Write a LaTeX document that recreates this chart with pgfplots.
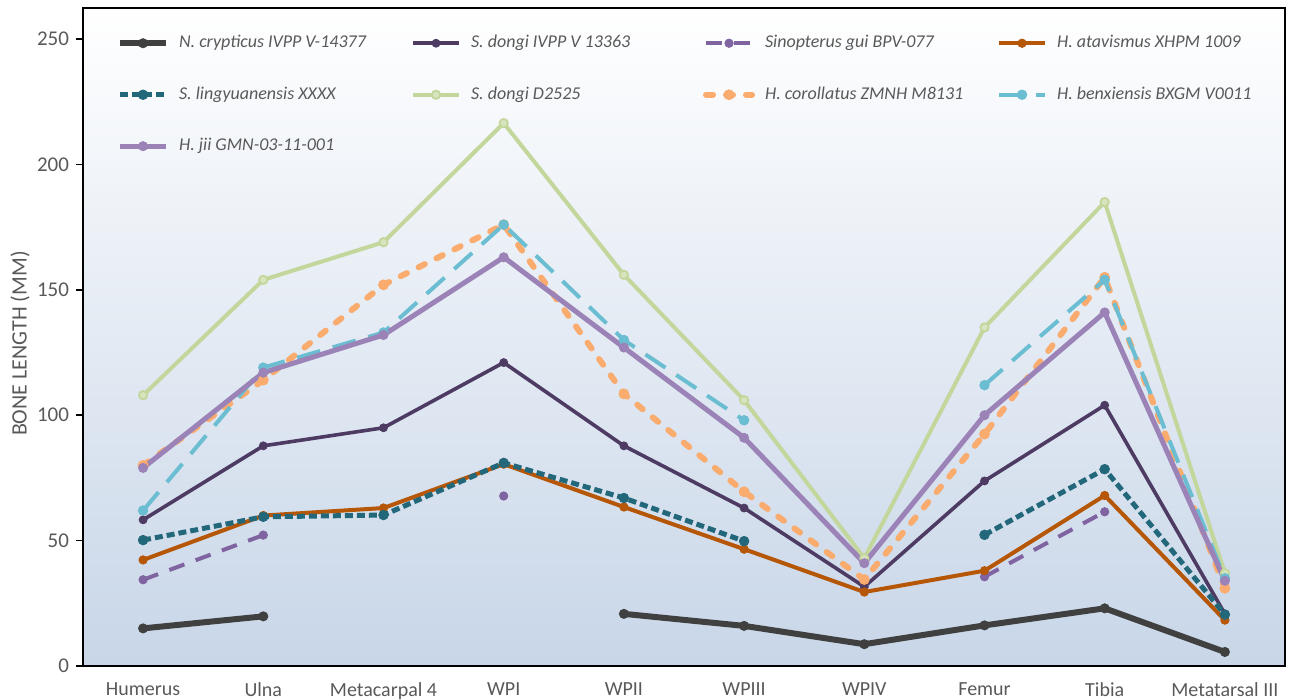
\documentclass[border=0pt]{standalone}
\usepackage{fontspec}
\setmainfont{Carlito}
\usepackage{pgfplots}
\usepackage{pgfplotstable}
\pgfplotsset{compat=1.18}
\definecolor{cA}{HTML}{404040}
\definecolor{cB}{HTML}{4E3B63}
\definecolor{cC}{HTML}{8064A2}
\definecolor{cD}{HTML}{B65708}
\definecolor{cE}{HTML}{23687A}
\definecolor{cF}{HTML}{C3D69B}
\definecolor{cFf}{HTML}{D7E4BD}
\definecolor{cG}{HTML}{FAAB6E}
\definecolor{cH}{HTML}{6BBDD2}
\definecolor{cI}{HTML}{9B83B7}
\definecolor{txt}{HTML}{595959}
\definecolor{bgb}{HTML}{C8D6E8}
\pgfplotstableread{
x ncry sdong sgui hata sling sdd hcor hben hjii
0 15 58.3 34.4 42.3 50.2 108 80 62 79
1 19.8 87.8 52.2 60.0 59.5 154 114 119 117
2 nan 95 nan 63 60.2 169 152 133 132
3 nan 121 67.8 80.5 81 216.5 176 176 163
4 20.8 87.8 nan 63.4 67 156 108.5 130 127
5 16.0 63 nan 46.6 49.8 106 69.5 98 91
6 8.7 31.6 nan 29.5 nan 43 34.5 nan 41
7 16.2 73.8 35.6 38 52.3 135 92.5 112 100
8 23 104 61.5 68 78.5 185 155 154 141
9 5.6 20.8 nan 18.3 20.5 37 31 35 34
}\data
\newcommand{\legtxt}[1]{\makebox[117pt][l]{\hspace{3pt}\itshape #1}}
\begin{document}
\begin{tikzpicture}
\begin{axis}[
  scale only axis, width=601pt, height=329pt,
  xmin=-0.5, xmax=9.5, ymin=0, ymax=262.4,
  axis background/.style={top color=white, bottom color=bgb},
  axis line style={black, line width=1pt},
  unbounded coords=jump,
  xtick={0,...,9},
  xticklabels={Humerus, Ulna, Metacarpal 4, WPI, WPII, WPIII, WPIV, Femur, Tibia, Metatarsal III},
  x tick style={draw=none},
  xticklabel style={font=\fontsize{10}{12}\selectfont, text=txt, yshift=-1.5pt},
  ytick={0,50,...,250},
  ytick pos=left, tick align=outside, major tick length=3.5pt,
  y tick style={black, line width=0.8pt},
  yticklabel style={font=\fontsize{10.5}{12}\selectfont, text=txt},
  /pgf/number format/assume math mode=true,
  ylabel={BONE LENGTH (MM)},
  ylabel style={at={([xshift=-31.5pt]axis description cs:0,0.49)}, anchor=center, font=\fontsize{11}{13}\selectfont, text=txt},
  legend columns=4,
  legend style={at={(axis description cs:0.023,0.971)}, anchor=north west, draw=none, fill=none,
    font=\fontsize{9}{11}\selectfont, text=txt, row sep=14pt, cells={anchor=west}},
  legend image code/.code={\draw[mark repeat=2,mark phase=2] plot coordinates {(0pt,0pt) (11.5pt,0pt) (23pt,0pt)};},
]
\addplot[cA, line width=3pt, mark=*, mark size=2.3pt, mark options={solid, line width=0.4pt}] table[x=x,y=ncry]{\data};
\addlegendentry{\legtxt{N. crypticus IVPP V-14377}}
\addplot[cB, line width=1.8pt, mark=*, mark size=2pt, mark options={solid, line width=0.4pt}] table[x=x,y=sdong]{\data};
\addlegendentry{\legtxt{S. dongi IVPP V 13363}}
\addplot[cC, line width=2pt, dash pattern=on 8pt off 6pt, mark=*, mark size=2.1pt, mark options={solid, line width=0.4pt}] table[x=x,y=sgui]{\data};
\addlegendentry{\legtxt{Sinopterus gui BPV-077}}
\addplot[cD, line width=2pt, mark=*, mark size=2.1pt, mark options={solid, line width=0.4pt}] table[x=x,y=hata]{\data};
\addlegendentry{\legtxt{H. atavismus XHPM 1009}}
\addplot[cE, line width=2.5pt, dash pattern=on 4pt off 2pt, mark=*, mark size=2.4pt, mark options={solid, line width=0.4pt}] table[x=x,y=sling]{\data};
\addlegendentry{\legtxt{S. lingyuanensis XXXX}}
\addplot[cF, line width=2pt, mark=*, mark size=2.1pt, mark options={solid, fill=cFf, draw=cF, line width=0.9pt}] table[x=x,y=sdd]{\data};
\addlegendentry{\legtxt{S. dongi D2525}}
\addplot[cG, line width=3pt, line cap=round, dash pattern=on 3.5pt off 6.5pt, mark=*, mark size=2.5pt, mark options={solid, line width=0.4pt}] table[x=x,y=hcor]{\data};
\addlegendentry{\legtxt{H. corollatus ZMNH M8131}}
\addplot[cH, line width=2pt, dash pattern=on 12pt off 6.5pt, mark=*, mark size=2.4pt, mark options={solid, line width=0.4pt}] table[x=x,y=hben]{\data};
\addlegendentry{\legtxt{H. benxiensis BXGM V0011}}
\addplot[cI, line width=2.5pt, mark=*, mark size=2.3pt, mark options={solid, line width=0.4pt}] table[x=x,y=hjii]{\data};
\addlegendentry{\legtxt{H. jii GMN-03-11-001}}
\end{axis}
\pgfresetboundingbox
\path (current axis.south west) ++(-41.5pt,-16.5pt);
\path (current axis.north east) ++(11pt,4pt);
\end{tikzpicture}
\end{document}
